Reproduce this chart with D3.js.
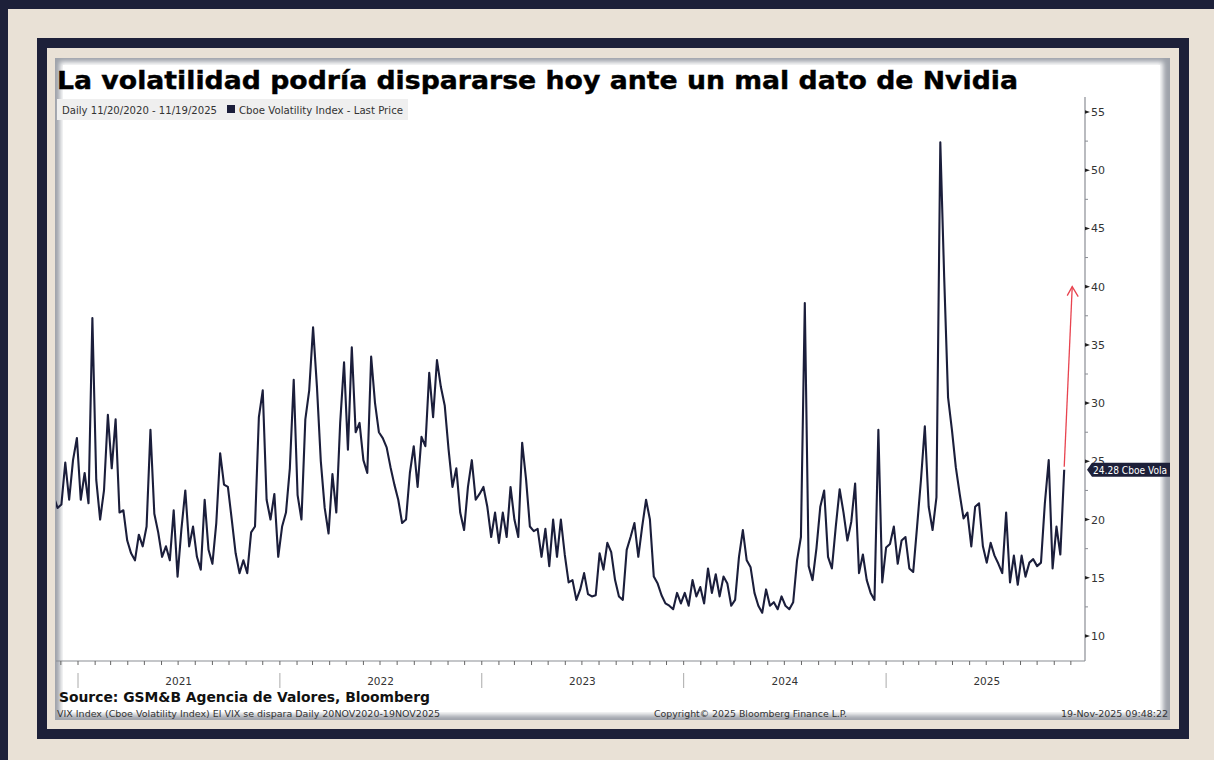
<!DOCTYPE html>
<html>
<head>
<meta charset="utf-8">
<script src="https://cdn.jsdelivr.net/npm/d3@7/dist/d3.min.js"></script>
<style>
body{margin:0;background:#e9e1d6;}
svg{display:block;}
</style>
</head>
<body>
<div id="chart"></div>
<script>

// weekly closes of the VIX, Nov 2020 -> Nov 19 2025
var vix2020 = [22.0,21.0,21.3,24.9,21.7,25.1,27.0];
var vix2021 = [21.7,24.0,21.4,37.3,23.4,20.0,22.5,29.0,24.4,28.6,
	20.6,20.8,18.2,17.1,16.5,18.7,17.7,19.4,27.7,20.5,
	18.9,16.8,17.7,16.5,20.8,15.1,19.2,22.5,17.7,19.4,
	16.8,15.7,21.7,17.4,16.2,19.7,25.7,23.0,22.8,20.0,
	17.1,15.4,16.5,15.4,18.9,19.4,28.8,31.1,21.7,20.0,
	22.2,16.8];
var vix2022 = [19.4,20.6,24.4,32.0,22.1,20.0,28.6,31.1,36.5,31.4,
	25.0,21.0,18.8,23.9,20.6,28.3,33.5,26.0,34.8,27.5,
	28.3,25.1,24.0,34.0,30.0,27.5,27.0,26.2,24.5,23.0,
	21.7,19.7,20.0,24.0,26.3,22.8,27.1,26.3,32.6,28.8,
	33.7,31.4,29.8,26.0,22.8,24.4,20.6,19.1,22.8,25.1,
	21.7,22.2];
var vix2023 = [22.8,21.1,18.5,20.6,18.0,20.6,18.5,22.8,20.0,18.5,
	26.6,23.5,19.4,19.0,19.2,16.8,19.2,16.0,20.0,16.8,
	20.0,17.0,14.6,14.8,13.1,14.0,15.4,13.6,13.4,13.5,
	17.1,15.7,18.0,17.2,14.8,13.4,13.1,17.4,18.5,19.7,
	16.8,19.4,21.7,20.0,15.1,14.5,13.5,12.8,12.6,12.3,
	13.7,12.8];
var vix2024 = [13.7,12.6,14.8,13.4,14.2,12.8,15.8,13.7,15.3,13.4,
	15.1,14.5,12.6,13.1,16.8,19.1,16.5,15.9,13.7,12.6,
	12.0,14.0,12.6,12.9,12.3,13.4,12.6,12.3,12.9,16.5,
	18.5,38.6,16.0,14.8,17.5,21.1,22.5,16.8,15.8,19.4,
	22.6,20.6,18.2,19.8,23.1,15.4,17.0,14.8,13.7,13.1,
	27.7,14.6];
var vix2025 = [17.6,17.9,19.4,16.2,18.2,18.5,15.8,15.5,19.4,23.4,
	28.0,21.1,19.1,21.9,52.4,40.8,30.5,27.7,24.5,22.2,
	20.1,20.6,17.7,21.1,21.4,17.7,16.3,18.0,16.9,16.2,
	15.4,20.6,14.6,16.9,14.4,16.9,15.1,16.3,16.6,16.0,
	16.3,21.4,25.1,15.8,19.4,17.0,24.28];

var lastDate = "2025-11-19";
var years = [2021,2022,2023,2024,2025];
var yTicks = [10,15,20,25,30,35,40,45,50,55];
var yMinor = [12.5,17.5,22.5,27.5,32.5,37.5,42.5,47.5,52.5];
var arrowTarget = 40;

var W = 1214, H = 760;
var navy = "#1d2039", beige = "#e9e1d6", lineCol = "#1b1e3b";

var svg = d3.select("#chart").append("svg")
	.attr("width",W).attr("height",H)
	.attr("viewBox","0 0 "+W+" "+H);

var defs = svg.append("defs");
defs.append("filter").attr("id","soft").attr("x","-5%").attr("y","-5%").attr("width","110%").attr("height","110%")
	.append("feGaussianBlur").attr("stdDeviation",2.6);
defs.append("clipPath").attr("id","panelclip")
	.append("rect").attr("x",55).attr("y",58).attr("width",1115).attr("height",662);
defs.append("clipPath").attr("id","plotclip")
	.append("rect").attr("x",56).attr("y",95).attr("width",1029).attr("height",566);

// page background + outer strips
svg.append("rect").attr("width",W).attr("height",H).attr("fill",beige);
svg.append("rect").attr("width",W).attr("height",9).attr("fill",navy);
svg.append("rect").attr("width",8).attr("height",H).attr("fill",navy);

// dark frame
svg.append("rect").attr("x",42).attr("y",43).attr("width",1142).attr("height",691)
	.attr("fill","none").attr("stroke",navy).attr("stroke-width",10);

// chart panel with soft grey edge
var panel = svg.append("g").attr("clip-path","url(#panelclip)");
panel.append("rect").attr("x",55).attr("y",58).attr("width",1115).attr("height",662).attr("fill","#9ea2aa");
panel.append("rect").attr("x",60).attr("y",62).attr("width",1103).attr("height",653)
	.attr("fill","#fff").attr("filter","url(#soft)");
panel.append("rect").attr("x",63).attr("y",65).attr("width",1097).attr("height",647).attr("fill","#fff");

// scales
var x = d3.scaleUtc()
	.domain([new Date(Date.UTC(2021,0,1)), new Date(Date.UTC(2026,0,1))])
	.range([78,1088]);
var y = d3.scaleLinear().domain([10,55]).range([636,112]);

var values = vix2020.concat(vix2021,vix2022,vix2023,vix2024,vix2025);
var end = new Date(lastDate+"T00:00:00Z");
var n = values.length;
var data = values.map(function(v,i){
	return {date: d3.utcDay.offset(end,-7*(n-1-i)), value: v};
});
var last = data[n-1];

var axisX = 1085, axisY = 661;

// title
svg.append("text").attr("x",57).attr("y",89)
	.attr("font-family","'DejaVu Sans', Verdana, sans-serif").attr("font-weight","bold")
	.attr("font-size",24.5).attr("fill","#000").attr("stroke","#000").attr("stroke-width",0.4)
	.attr("textLength",961).attr("lengthAdjust","spacingAndGlyphs")
	.text("La volatilidad podría dispararse hoy ante un mal dato de Nvidia");

// legend strip
var leg = svg.append("g").attr("font-family","'DejaVu Sans', Tahoma, sans-serif").attr("font-size",10.5).attr("fill","#333");
leg.append("rect").attr("x",57).attr("y",99).attr("width",351).attr("height",21).attr("fill","#efefef");
leg.append("text").attr("x",62).attr("y",114).attr("textLength",155).attr("lengthAdjust","spacingAndGlyphs")
	.text("Daily 11/20/2020 - 11/19/2025");
leg.append("rect").attr("x",227).attr("y",105).attr("width",8).attr("height",8).attr("fill",lineCol);
leg.append("text").attr("x",239).attr("y",114).attr("textLength",164).attr("lengthAdjust","spacingAndGlyphs")
	.text("Cboe Volatility Index - Last Price");

// right axis
var ya = svg.append("g").attr("transform","translate("+axisX+",0)")
	.attr("font-family","'DejaVu Sans', Tahoma, sans-serif");
ya.append("line").attr("x1",0).attr("x2",0).attr("y1",97).attr("y2",axisY).attr("stroke","#8a8d94").attr("stroke-width",1.2);
ya.selectAll(".minor").data(yMinor).enter().append("line").attr("class","minor")
	.attr("x1",0).attr("x2",3).attr("y1",function(d){return y(d);}).attr("y2",function(d){return y(d);})
	.attr("stroke","#8a8d94");
ya.selectAll(".major").data(yTicks).enter().append("path").attr("class","major")
	.attr("d",function(d){var v=y(d);return "M0,"+(v-1.8)+"L5,"+v+"L0,"+(v+1.8)+"Z";})
	.attr("fill","#222");
ya.selectAll(".lab").data(yTicks).enter().append("text").attr("class","lab")
	.attr("x",6).attr("y",function(d){return y(d)+4;})
	.attr("font-size",11).attr("fill","#333").text(function(d){return d;});

// bottom axis
var xa = svg.append("g").attr("font-family","'DejaVu Sans', Tahoma, sans-serif");
xa.append("line").attr("x1",56).attr("x2",axisX).attr("y1",axisY).attr("y2",axisY).attr("stroke","#8a8d94").attr("stroke-width",1.2);
var months = d3.utcMonths(new Date(Date.UTC(2020,11,1)), new Date(Date.UTC(2025,11,2)));
xa.selectAll(".mt").data(months).enter().append("line").attr("class","mt")
	.attr("x1",function(d){return x(d);}).attr("x2",function(d){return x(d);})
	.attr("y1",axisY).attr("y2",axisY+4).attr("stroke","#666");
xa.selectAll(".sep").data(years).enter().append("line").attr("class","sep")
	.attr("x1",function(d){return x(new Date(Date.UTC(d,0,1)));})
	.attr("x2",function(d){return x(new Date(Date.UTC(d,0,1)));})
	.attr("y1",673).attr("y2",688).attr("stroke","#aaa");
xa.selectAll(".yl").data(years).enter().append("text").attr("class","yl")
	.attr("x",function(d){return x(new Date(Date.UTC(d,6,2)));})
	.attr("y",685).attr("text-anchor","middle").attr("font-size",10.5).attr("fill","#333")
	.text(function(d){return d;});

// series line
svg.append("g").attr("clip-path","url(#plotclip)")
	.append("path").datum(data)
	.attr("fill","none").attr("stroke",lineCol).attr("stroke-width",2.1)
	.attr("stroke-linejoin","round")
	.attr("d",d3.line().x(function(d){return x(d.date);}).y(function(d){return y(d.value);}));

// red arrow
var ax0 = x(last.date), ay0 = y(last.value)-3, ax1 = x(last.date)+8, ay1 = y(arrowTarget);
var arr = svg.append("g").attr("stroke","#e8434f").attr("stroke-width",1.3).attr("fill","none");
arr.append("line").attr("x1",ax0).attr("y1",ay0).attr("x2",ax1).attr("y2",ay1);
arr.append("path").attr("d","M"+(ax1-5)+","+(ay1+9)+"L"+ax1+","+ay1+"L"+(ax1+6)+","+(ay1+10));

// last value tag
var ly = y(last.value);
var tag = svg.append("g").attr("clip-path","url(#panelclip)");
tag.append("path")
	.attr("d","M"+(axisX+2)+","+ly+"L"+(axisX+7)+","+(ly-7)+"L1172,"+(ly-7)+"L1172,"+(ly+7)+"L"+(axisX+7)+","+(ly+7)+"Z")
	.attr("fill",navy);
tag.append("text").attr("x",axisX+8).attr("y",ly+4)
	.attr("font-family","'DejaVu Sans', Tahoma, sans-serif").attr("font-size",10.5).attr("fill","#fff")
	.attr("textLength",74).attr("lengthAdjust","spacingAndGlyphs")
	.text(d3.format(".2f")(last.value)+" Cboe Vola");

// footer
var ft = svg.append("g").attr("font-family","'DejaVu Sans', Tahoma, sans-serif");
ft.append("text").attr("x",59).attr("y",702).attr("font-weight","bold").attr("font-size",14).attr("fill","#111")
	.attr("textLength",371).attr("lengthAdjust","spacingAndGlyphs")
	.text("Source: GSM&B Agencia de Valores, Bloomberg");
ft.append("text").attr("x",57).attr("y",717).attr("font-size",9.5).attr("fill","#333")
	.attr("textLength",383).attr("lengthAdjust","spacingAndGlyphs")
	.text("VIX Index (Cboe Volatility Index) El VIX se dispara Daily 20NOV2020-19NOV2025");
ft.append("text").attr("x",654).attr("y",717).attr("font-size",9.5).attr("fill","#333")
	.attr("textLength",193).attr("lengthAdjust","spacingAndGlyphs")
	.text("Copyright© 2025 Bloomberg Finance L.P.");
ft.append("text").attr("x",1061).attr("y",717).attr("font-size",9.5).attr("fill","#333")
	.attr("textLength",107).attr("lengthAdjust","spacingAndGlyphs")
	.text("19-Nov-2025 09:48:22");

</script>
</body>
</html>
